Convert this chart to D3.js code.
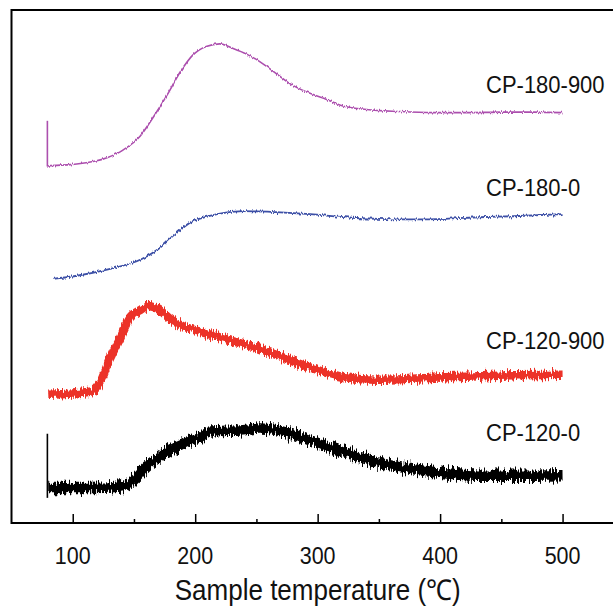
<!DOCTYPE html>
<html>
<head>
<meta charset="utf-8">
<script src="https://cdn.jsdelivr.net/npm/d3@7"></script>
<style>
  html, body { margin: 0; padding: 0; background: #fff; }
  svg { display: block; font-family: "Liberation Sans", Arial, sans-serif; }
</style>
</head>
<body>
<svg id="chart" width="613" height="606"></svg>
<script>
// TPD-like curves: [temperature (°C), signal (a.u.)]
const seriesNames = ["CP-180-900", "CP-180-0", "CP-120-900", "CP-120-0"]

// start-up spikes at the first reading
const spike180_900 = [[79.3, 78.4], [79.3, 69.5]]
const spike120_0 = [[79.3, 17.4], [79.3, 4.9]]

const cp180_900 = [
  [79.4, 69.5], [80, 69.6], [100, 69.9], [128, 71.2], [141, 72.7],
  [155, 75.4], [166, 79.2], [177, 83.4], [188, 88.0], [198, 91.2], [209, 92.9],
  [220, 93.4], [231, 92.5], [242, 91.4], [253, 89.9], [264, 88.0], [277, 85.7],
  [291, 84.0], [305, 82.8], [318, 81.5], [340, 80.6], [367, 80.2], [394, 80.0],
  [422, 80.0], [450, 80.1], [476, 80.1], [500, 80.0]
]
const cp180_0 = [
  [84, 47.6], [101, 48.1], [128, 49.4], [156, 51.4], [170, 53.4], [184, 56.4],
  [197, 58.7], [211, 59.8], [225, 60.5], [239, 60.8], [266, 60.6], [294, 60.2],
  [322, 59.6], [349, 59.3], [377, 59.2], [404, 59.3], [432, 59.6], [460, 59.8],
  [500, 60.2]
]
const cp120_900 = [
  [80, 25.0], [114, 25.6], [122, 27.2], [130, 31.8], [139, 36.3], [147, 40.2],
  [155, 41.5], [161, 42.3], [171, 41.5], [179, 39.9], [188, 38.6], [204, 37.3],
  [220, 36.2], [237, 35.0], [252, 34.0], [266, 32.8], [280, 31.5], [294, 30.3],
  [308, 29.2], [322, 28.4], [349, 27.9], [377, 28.1], [404, 28.4], [432, 28.6],
  [460, 28.8], [500, 28.9]
]
const cp120_0 = [
  [80, 6.8], [114, 6.8], [139, 7.1], [150, 8.4],
  [160, 11.0], [171, 12.9], [182, 14.6], [193, 15.8], [204, 16.8], [211, 17.8],
  [239, 18.1], [253, 18.4], [266, 18.1], [294, 16.1], [322, 13.8], [349, 11.8],
  [377, 10.5], [404, 9.7], [432, 9.2], [460, 9.2], [500, 9.3]
]

const xTicks = [100, 200, 300, 400, 500]
const xMinorTicks = [150, 250, 350, 450]
const xTitle = "Sample temperature (\u2103)"

const W = 613, H = 606
const svg = d3.select("#chart")

const x = d3.scaleLinear().domain([50, 542]).range([11.5, 614])
const y = d3.scaleLinear().domain([0, 100]).range([523, 10])

// styles per series
const styles = [
  { data: cp180_900, spike: spike180_900, color: "#ac4fae", width: 1.6, jit: 4,  labelY: 85.6 },
  { data: cp180_0,   spike: null,         color: "#3c4fa6", width: 1.8, jit: 5,  labelY: 65.5 },
  { data: cp120_900, spike: null,         color: "#ec3228", width: 8.5, jit: 11, labelY: 35.7 },
  { data: cp120_0,   spike: spike120_0,   color: "#000000", width: 10.5, jit: 14, labelY: 17.7 }
]

const defs = svg.append("defs")
function addJitter(id, scale) {
  const f = defs.append("filter").attr("id", id)
    .attr("filterUnits", "userSpaceOnUse")
    .attr("x", 0).attr("y", 0).attr("width", W).attr("height", H)
    .attr("color-interpolation-filters", "sRGB")
  f.append("feTurbulence")
    .attr("type", "fractalNoise")
    .attr("baseFrequency", "0.8 0.08")
    .attr("numOctaves", 2)
    .attr("seed", 7)
    .attr("result", "noise")
  f.append("feColorMatrix")
    .attr("in", "noise")
    .attr("type", "matrix")
    .attr("values", "0 0 0 0 0.5  0 1 0 0 0  0 0 0 0 0  0 0 0 0 1")
    .attr("result", "map")
  f.append("feDisplacementMap")
    .attr("in", "SourceGraphic")
    .attr("in2", "map")
    .attr("scale", scale)
    .attr("xChannelSelector", "R")
    .attr("yChannelSelector", "G")
}

const line = d3.line()
  .x(d => x(d[0]))
  .y(d => y(d[1]))
  .curve(d3.curveMonotoneX)

const straight = d3.line().x(d => x(d[0])).y(d => y(d[1]))

styles.forEach((s, i) => {
  addJitter("jit" + i, s.jit)
  svg.append("path")
    .datum(s.data)
    .attr("d", line)
    .attr("fill", "none")
    .attr("stroke", s.color)
    .attr("stroke-width", s.width)
    .attr("stroke-linejoin", "round")
    .attr("filter", `url(#jit${i})`)
  if (s.spike) {
    svg.append("path")
      .datum(s.spike)
      .attr("d", straight)
      .attr("fill", "none")
      .attr("stroke", s.color)
      .attr("stroke-width", 1.6)
  }
})

// series labels
const labelT = 437.5
styles.forEach((s, i) => {
  svg.append("text")
    .attr("transform", `translate(${x(labelT)},${y(s.labelY)}) scale(1,1.1)`)
    .attr("dy", "0.36em")
    .style("font-size", "22px")
    .attr("fill", "#111")
    .text(seriesNames[i])
})

// frame: left, top, bottom (right side runs off the picture)
svg.append("path")
  .attr("d", `M${x.range()[1] + 2},${y(100)} H${x.range()[0]} V${y(0)} H${x.range()[1] + 2}`)
  .attr("fill", "none")
  .attr("stroke", "#000")
  .attr("stroke-width", 2)

// ticks point inward
const xAxis = d3.axisBottom(x).tickValues(xTicks).tickSize(-9).tickPadding(0).tickFormat("")
svg.append("g").attr("transform", `translate(0,${y(0)})`).call(xAxis)
  .call(g => g.select(".domain").remove())
  .call(g => g.selectAll("line").attr("stroke-width", 1.5))

const xMinor = d3.axisBottom(x).tickValues(xMinorTicks).tickSize(-4).tickFormat("")
svg.append("g").attr("transform", `translate(0,${y(0)})`).call(xMinor)
  .call(g => g.select(".domain").remove())
  .call(g => g.selectAll("line").attr("stroke-width", 1.5))

// tick labels
svg.append("g").selectAll("text")
  .data(xTicks)
  .join("text")
  .attr("transform", d => `translate(${x(d)},564) scale(1,1.12)`)
  .attr("text-anchor", "middle")
  .style("font-size", "21.5px")
  .attr("fill", "#111")
  .text(d => d)

svg.append("text")
  .attr("transform", `translate(${x(300)},600) scale(1,1.1)`)
  .attr("text-anchor", "middle")
  .style("font-size", "26px")
  .attr("fill", "#111")
  .text(xTitle)
</script>
</body>
</html>
